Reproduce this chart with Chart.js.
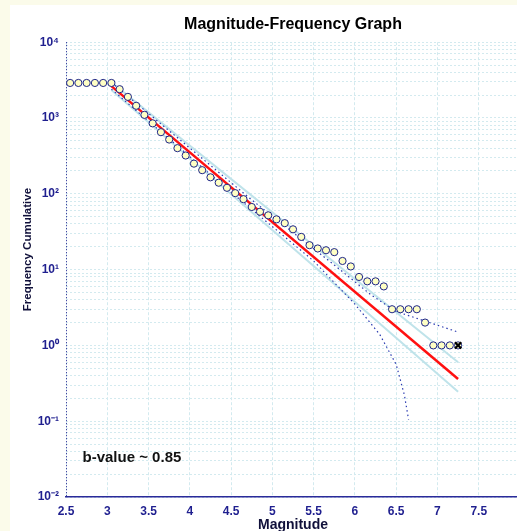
<!DOCTYPE html>
<html>
<head>
<meta charset="utf-8">
<script src="https://cdn.jsdelivr.net/npm/chart.js@4.4.0/dist/chart.umd.min.js"></script>
<style>
    html, body { margin: 0; padding: 0; width: 517px; height: 531px; overflow: hidden; background: #fbfbea; }
    #panel { position: absolute; left: 10px; top: 5px; width: 566px; height: 534px; background: #ffffff; }
</style>
</head>
<body>
<div id="panel"><canvas id="mf-graph" width="566" height="534"></canvas></div>
<script>

// observed cumulative counts (one per 0.1 magnitude bin)
const magnitudes = [2.55, 2.65, 2.75, 2.85, 2.95, 3.05, 3.15, 3.25, 3.35, 3.45, 3.55, 3.65, 3.75, 3.85,
    3.95, 4.05, 4.15, 4.25, 4.35, 4.45, 4.55, 4.65, 4.75, 4.85, 4.95, 5.05, 5.15, 5.25, 5.35, 5.45,
    5.55, 5.65, 5.75, 5.85, 5.95, 6.05, 6.15, 6.25, 6.35, 6.45, 6.55, 6.65, 6.75, 6.85, 6.95, 7.05,
    7.15, 7.25];
const cumulativeCounts = [2900, 2900, 2900, 2900, 2900, 2900, 2400, 1900, 1450, 1100, 850, 650, 520, 400,
    320, 250, 205, 165, 140, 120, 102, 85, 67, 58, 52, 46, 41, 34, 27, 21,
    19, 18, 17, 13, 11, 8, 7, 7, 6, 3, 3, 3, 3, 2, 1, 1,
    1, 1];

// largest event
const maxMagnitude = [7.25];
const maxCount = [1];

// fitted G-R line
const fitMags = [3.05, 7.25];
const fitCounts = [2630, 0.36];

// light band around the fit
const bandMags = [3.05, 7.25];
const bandUpper = [2950, 0.6];
const bandLower = [2340, 0.245];

// dotted bounds
const upperBoundMags = [3.05, 4.75, 5.75, 6.2, 6.5, 7.25];
const upperBoundCounts = [2950, 83, 11.5, 4.6, 2.8, 1.5];
const lowerBoundMags = [3.05, 4.5, 5.5, 6.0, 6.3, 6.5, 6.6, 6.65];
const lowerBoundCounts = [2400, 105, 13, 3.5, 1.4, 0.56, 0.22, 0.105];

const xTickValues = [2.5, 3, 3.5, 4, 4.5, 5, 5.5, 6, 6.5, 7, 7.5];
const decades = [-2, -1, 0, 1, 2, 3];
const bValueText = 'b-value ~ 0.85';
const bValueAt = {mag: 2.7, count: 0.029};

const navy = '#1f1f8f';
const fontFamily = 'Arial, "Liberation Sans", sans-serif';
const supers = {'-': '\u207B', '0': '\u2070', '1': '\u00B9', '2': '\u00B2', '3': '\u00B3', '4': '\u2074'};

function toPoints(xs, ys) {
    return xs.map((x, i) => ({x: x, y: ys[i]}));
}

function powerLabel(v) {
    const e = Math.log10(v);
    if (Math.abs(e - Math.round(e)) > 1e-9) return '';
    return '10' + String(Math.round(e)).split('').map(c => supers[c]).join('');
}

const yTickValues = [];
for (let d of decades) {
    for (let k = 1; k <= 9; k++) yTickValues.push(k * Math.pow(10, d));
}
yTickValues.push(10000);

const extrasPlugin = {
    id: 'extras',
    beforeDatasetsDraw(chart) {
        const {ctx, chartArea} = chart;
        ctx.save();
        ctx.strokeStyle = navy;
        ctx.lineWidth = 1;
        ctx.setLineDash([1, 2]);
        ctx.beginPath();
        ctx.moveTo(chartArea.left + 0.5, chartArea.top);
        ctx.lineTo(chartArea.left + 0.5, chartArea.bottom);
        ctx.stroke();
        ctx.restore();
    },
    afterDraw(chart) {
        const {ctx, chartArea, scales} = chart;
        ctx.save();
        ctx.fillStyle = '#111111';
        ctx.font = 'bold 15px ' + fontFamily;
        ctx.textAlign = 'left';
        ctx.textBaseline = 'alphabetic';
        ctx.fillText(bValueText, scales.x.getPixelForValue(bValueAt.mag), scales.y.getPixelForValue(bValueAt.count));

        // y axis title
        ctx.translate(18, (chartArea.top + chartArea.bottom) / 2 - 20);
        ctx.rotate(-Math.PI / 2);
        ctx.fillStyle = '#10103a';
        ctx.font = 'bold 11.5px ' + fontFamily;
        ctx.textAlign = 'center';
        ctx.textBaseline = 'middle';
        ctx.fillText('Frequency Cumulative', 0, 0);
        ctx.restore();
    }
};

new Chart(document.getElementById('mf-graph'), {
    type: 'scatter',
    data: {
        datasets: [
            {
                label: 'max',
                data: toPoints(maxMagnitude, maxCount),
                pointStyle: 'crossRot',
                pointRadius: 4.5,
                borderColor: '#000000',
                borderWidth: 2.2
            },
            {
                label: 'observed',
                data: toPoints(magnitudes, cumulativeCounts),
                pointRadius: 3.6,
                backgroundColor: '#ffffc4',
                borderColor: '#1c2488',
                borderWidth: 1
            },
            {
                label: 'fit',
                data: toPoints(fitMags, fitCounts),
                showLine: true,
                pointRadius: 0,
                borderColor: '#ff1010',
                borderWidth: 2.5
            },
            {
                label: 'upper bound',
                data: toPoints(upperBoundMags, upperBoundCounts),
                showLine: true,
                pointRadius: 0,
                borderColor: '#2a3ab0',
                borderWidth: 1.2,
                borderDash: [1.5, 3]
            },
            {
                label: 'lower bound',
                data: toPoints(lowerBoundMags, lowerBoundCounts),
                showLine: true,
                pointRadius: 0,
                borderColor: '#2a3ab0',
                borderWidth: 1.2,
                borderDash: [1.5, 3]
            },
            {
                label: 'band upper',
                data: toPoints(bandMags, bandUpper),
                showLine: true,
                pointRadius: 0,
                borderColor: '#bfe3ea',
                borderWidth: 2
            },
            {
                label: 'band lower',
                data: toPoints(bandMags, bandLower),
                showLine: true,
                pointRadius: 0,
                borderColor: '#bfe3ea',
                borderWidth: 2
            }
        ]
    },
    options: {
        responsive: false,
        animation: false,
        devicePixelRatio: 1,
        layout: {padding: 0},
        plugins: {
            legend: {display: false},
            tooltip: {enabled: false},
            title: {
                display: true,
                text: 'Magnitude-Frequency Graph',
                color: '#000000',
                font: {family: fontFamily, size: 16, weight: 'bold'},
                padding: {top: 10, bottom: 8}
            }
        },
        scales: {
            x: {
                type: 'linear',
                min: 2.5,
                max: 8,
                afterBuildTicks: s => { s.ticks = xTickValues.map(v => ({value: v})); },
                afterFit: s => { s.height = 42; },
                grid: {color: '#d3eaef', drawTicks: false},
                border: {color: '#2a2a9a', width: 1.5, dash: [3, 2]},
                ticks: {
                    color: navy,
                    autoSkip: false,
                    maxRotation: 0,
                    padding: 7,
                    font: {family: fontFamily, size: 12, weight: 'bold'},
                    callback: v => String(v)
                },
                title: {
                    display: true,
                    text: 'Magnitude',
                    color: '#10103a',
                    font: {family: fontFamily, size: 14, weight: 'bold'},
                    padding: {top: 0, bottom: 5}
                }
            },
            y: {
                type: 'logarithmic',
                min: 0.01,
                max: 10000,
                afterBuildTicks: s => { s.ticks = yTickValues.map(v => ({value: v})); },
                afterFit: s => { s.width = 56; },
                grid: {color: '#d3eaef', drawTicks: false},
                border: {display: false, dash: [2, 2]},
                ticks: {
                    color: navy,
                    autoSkip: false,
                    padding: 7,
                    font: {family: fontFamily, size: 12, weight: 'bold'},
                    callback: v => powerLabel(v)
                }
            },
            // empty right margin, cut off by the window like the original
            yRight: {
                type: 'logarithmic',
                position: 'right',
                min: 0.01,
                max: 10000,
                afterFit: s => { s.width = 56; },
                grid: {drawOnChartArea: false, drawTicks: false},
                border: {display: false},
                ticks: {display: false}
            }
        }
    },
    plugins: [extrasPlugin]
});
</script>
</body>
</html>
